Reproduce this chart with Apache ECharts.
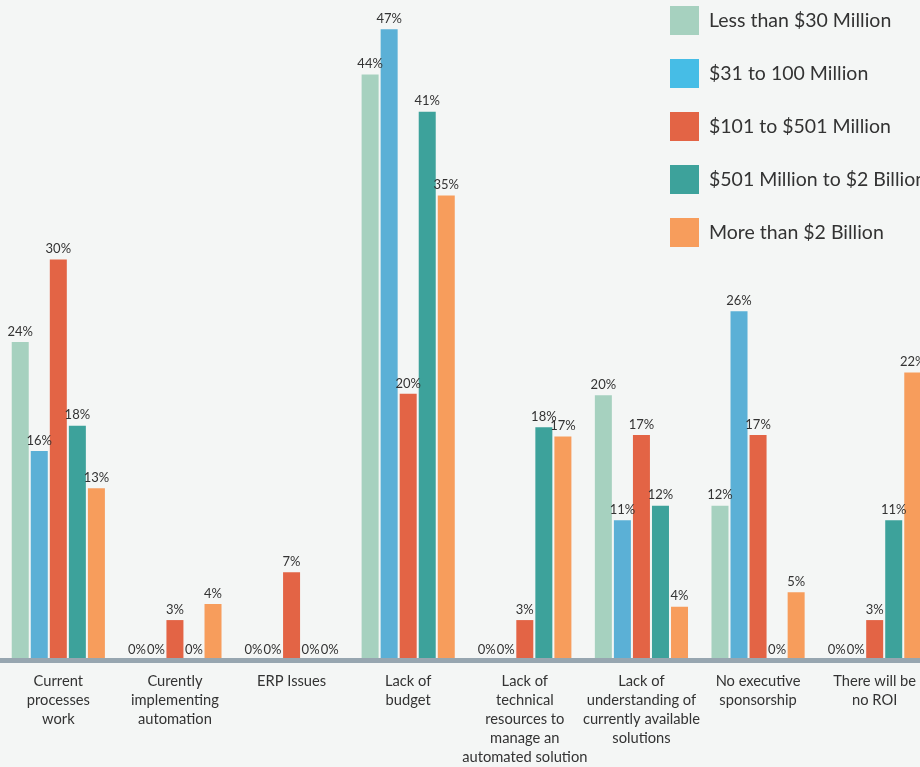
<!DOCTYPE html>
<html>
<head>
<meta charset="utf-8">
<script src="https://cdn.jsdelivr.net/npm/echarts@6/dist/echarts.min.js"></script>
<style>
html,body{margin:0;padding:0;background:#f4f6f5;width:920px;height:767px;overflow:hidden;}
#chart{width:933px;height:767px;}
</style>
</head>
<body>
<div id="chart"></div>
<script>
const categories = [
  "Current\nprocesses\nwork",
  "Curently\nimplementing\nautomation",
  "ERP Issues",
  "Lack of\nbudget",
  "Lack of\ntechnical\nresources to\nmanage an\nautomated solution",
  "Lack of\nunderstanding of\ncurrently available\nsolutions",
  "No executive\nsponsorship",
  "There will be\nno ROI"
];
const seriesNames = [
  "Less than $30 Million",
  "$31 to 100 Million",
  "$101 to $501 Million",
  "$501 Million to $2 Billion",
  "More than $2 Billion"
];
const lessThan30M   = [23.9, 0, 0, 44.0, 0, 19.9, 11.6, 0];
const from31to100M  = [15.7, 0, 0, 47.4, 0, 10.5, 26.2, 0];
const from101to501M = [30.1, 3.0, 6.6, 20.0, 3.0, 16.9, 16.9, 3.0];
const from501Mto2B  = [17.6, 0, 0, 41.2, 17.5, 11.6, 0, 10.5];
const moreThan2B    = [12.9, 4.2, 0, 34.9, 16.8, 4.0, 5.1, 21.6];

const seriesData = [lessThan30M, from31to100M, from101to501M, from501Mto2B, moreThan2B];
const barColors = ['#a6d1bf', '#5bb0d6', '#e36445', '#3da29b', '#f79d5c'];
const legendColors = ['#a6d1bf', '#46bde6', '#e36445', '#3da29b', '#f79d5c'];

const chart = echarts.init(document.getElementById('chart'));
chart.setOption({
  backgroundColor: '#f4f6f5',
  animation: false,
  textStyle: { fontFamily: 'Lato' },
  legend: {
    orient: 'vertical',
    left: 670,
    top: 6,
    padding: 0,
    itemWidth: 29,
    itemHeight: 29,
    itemGap: 24,
    icon: 'rect',
    textStyle: { fontSize: 19.5, color: '#333', fontFamily: 'Lato', padding: [0, 0, 0, 5] },
    data: seriesNames.map((n, i) => ({ name: n, itemStyle: { color: legendColors[i] } }))
  },
  grid: { left: 0, right: 0, top: 0, bottom: 102, containLabel: false },
  xAxis: {
    type: 'category',
    data: categories,
    z: 5,
    axisLine: { show: true, lineStyle: { color: '#97a6b0', width: 5 } },
    axisTick: { show: false },
    axisLabel: { interval: 0, fontSize: 14.7, lineHeight: 19, color: '#333', margin: 12, fontFamily: 'Lato' }
  },
  yAxis: {
    type: 'value',
    min: 0,
    max: 49.6,
    show: false,
    splitLine: { show: false }
  },
  series: seriesNames.map((n, i) => ({
    name: n,
    type: 'bar',
    data: seriesData[i],
    barWidth: 17,
    barGap: '12%',
    itemStyle: { color: barColors[i] },
    label: {
      show: true,
      position: 'top',
      distance: 4,
      fontSize: 13,
      color: '#333',
      fontFamily: 'Lato',
      formatter: p => Math.round(p.value) + '%'
    }
  }))
});
</script>
</body>
</html>
